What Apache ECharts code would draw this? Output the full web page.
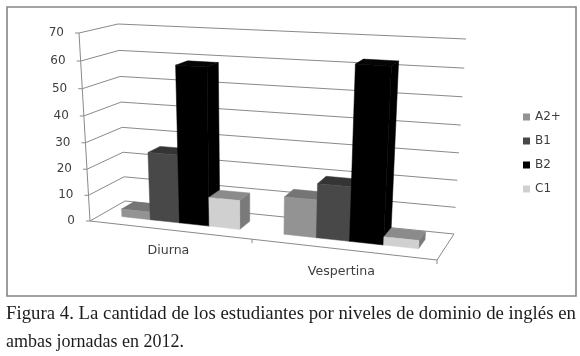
<!DOCTYPE html>
<html><head><meta charset="utf-8">
<style>html,body{margin:0;padding:0;background:#fff}#c{width:580px;height:356px;filter:blur(0.45px)}</style>
<script src="https://cdn.jsdelivr.net/npm/echarts@6/dist/echarts.min.js"></script>
</head><body><div id="c"></div>
<script>
const categories = ['Diurna', 'Vespertina'];
const yTicks = [0, 10, 20, 30, 40, 50, 60, 70];
const seriesNames = ['A2+', 'B1', 'B2', 'C1'];
const a2Values = [3, 14];
const b1Values = [26, 20];
const b2Values = [59, 63];
const c1Values = [11, 3];
const seriesValues = [a2Values, b1Values, b2Values, c1Values];
const captionLines = ['Figura 4. La cantidad de los estudiantes por niveles de dominio de inglés en', 'ambas jornadas en 2012.'];

const faceColors = [
  {front:'#939393', side:'#6f6f6f', top:'#757575'},
  {front:'#484848', side:'#303030', top:'#343434'},
  {front:'#000000', side:'#000000', top:'#050505'},
  {front:'#d0d0d0', side:'#7a7a7a', top:'#8b8b8b'}
];
const GRID = {left:90, top:33, width:347, height:188};
const C = {fl:[90,221], fr:[437,260], bl:[125,201], br:[454,234], tfl:[79,33], tfr:[450,53], tbl:[118,24], tbr:[466,39]};
const persp = 0.124, perspY = 0.05, V0 = 0.33, V1 = 0.69, sideGap = 0.135, barW = 0.185;
const lineCol = '#8a8a8a', textCol = '#3f3f3f', textFont = 'DejaVu Sans';

const lerp = (a,b,t)=>[a[0]+(b[0]-a[0])*t, a[1]+(b[1]-a[1])*t];
function project(px, py, v){
  const u0 = (px-GRID.left)/GRID.width;
  const u = (1-persp)*u0/(1-persp*u0);
  const w0 = (GRID.top+GRID.height-py)/GRID.height;
  const w = (1-perspY)*w0/(1-perspY*w0);
  const bottom = lerp(lerp(C.fl,C.fr,u), lerp(C.bl,C.br,u), v);
  const top = lerp(lerp(C.tfl,C.tfr,u), lerp(C.tbl,C.tbr,u), v);
  return lerp(bottom, top, w);
}
function poly(points, fill){
  return {type:'polygon', shape:{points}, style:{fill, stroke:fill, lineWidth:0.5}};
}
function line(a,b,lw){
  return {type:'line', shape:{x1:a[0],y1:a[1],x2:b[0],y2:b[1]}, style:{stroke:lineCol, lineWidth:lw||1, fill:null}};
}
function barRenderer(si){
  return function(params, api){
    const cat = api.value(0), val = api.value(1);
    const base = api.coord([cat, 0]), top = api.coord([cat, val]);
    const band = api.size([1,0])[0];
    const x0 = base[0]-band/2 + band*(sideGap + barW*si), x1 = x0 + band*barW;
    const P = (x,y,v)=>project(x,y,v);
    const yb = base[1], yt = top[1], f = faceColors[si];
    return {type:'group', children:[
      poly([P(x1,yb,V0),P(x1,yb,V1),P(x1,yt,V1),P(x1,yt,V0)], f.side),
      poly([P(x0,yt,V0),P(x1,yt,V0),P(x1,yt,V1),P(x0,yt,V1)], f.top),
      poly([P(x0,yb,V0),P(x1,yb,V0),P(x1,yt,V0),P(x0,yt,V0)], f.front)
    ]};
  };
}
function wallRenderer(params, api){
  const t = api.value(0);
  const L = GRID.left, R = GRID.left+GRID.width;
  const y = api.coord([0,t])[1];
  const a = project(L,y,0), b = project(L,y,1), c = project(R,y,1);
  const kids = [line(a,b), line(b,c),
    line([a[0]-4,a[1]],a),
    {type:'text', style:{text:String(t), x:a[0]-15, y:a[1], align:'right', verticalAlign:'middle', fill:textCol, font:'12px "'+textFont+'"'}}];
  if (t===0){
    const yTop = api.coord([0,yTicks[yTicks.length-1]])[1];
    const d = project(R,y,0);
    kids.push(line(a,d), line(d,c), line(a,project(L,yTop,0)), line(d,[d[0],d[1]+4]));
  }
  return {type:'group', children:kids};
}
function catRenderer(params, api){
  const i = api.value(0);
  const p = api.coord([i,0]), band = api.size([1,0])[0];
  const centre = project(p[0],p[1],0);
  const edge = project(p[0]+band/2,p[1],0);
  const kids = [{type:'text', style:{text:categories[i], x:centre[0], y:centre[1]+21+i, align:'center', verticalAlign:'middle', fill:textCol, font:'12.6px "'+textFont+'"'}}];
  if (i===0) kids.push(line(edge,[edge[0],edge[1]+4]));
  return {type:'group', children:kids};
}
const barSeries = seriesNames.map((name,si)=>({
  type:'custom', name, coordinateSystem:'cartesian2d', clip:false, z:3+si,
  itemStyle:{color:faceColors[si].front},
  encode:{x:0,y:1}, renderItem:barRenderer(si),
  data:categories.map((c,i)=>[i, seriesValues[si][i]])
}));
const chart = echarts.init(document.getElementById('c'), null, {renderer:'canvas', width:580, height:356});
chart.setOption({
  animation:false, backgroundColor:'#fff',
  grid:{left:GRID.left, top:GRID.top, width:GRID.width, height:GRID.height},
  xAxis:{type:'category', data:categories, show:false},
  yAxis:{type:'value', min:0, max:70, interval:10, show:false},
  legend:{orient:'vertical', left:523, top:111, itemWidth:7, itemHeight:7, itemGap:12, icon:'rect',
    data:seriesNames, textStyle:{color:textCol, fontFamily:textFont, fontSize:12}, selectedMode:false, padding:0},
  series:[
    {type:'custom', name:'walls', coordinateSystem:'cartesian2d', clip:false, z:1, silent:true,
      encode:{x:1,y:0}, renderItem:wallRenderer, data:yTicks.map(t=>[t,0])},
    {type:'custom', name:'categories', coordinateSystem:'cartesian2d', clip:false, z:1, silent:true,
      renderItem:catRenderer, data:categories.map((c,i)=>[i,0])},
    ...barSeries
  ],
  graphic:[
    {type:'rect', z:0, shape:{x:7,y:7,width:569,height:289}, style:{fill:'none', stroke:'#858585', lineWidth:1.6}},
    {type:'text', x:6, y:305, scaleX:1.044, style:{text:captionLines[0], fill:'#1c1c1c', font:'18px "Liberation Serif"'}},
    {type:'text', x:6, y:333, style:{text:captionLines[1], fill:'#1c1c1c', font:'18px "Liberation Serif"'}}
  ]
});
</script></body></html>
